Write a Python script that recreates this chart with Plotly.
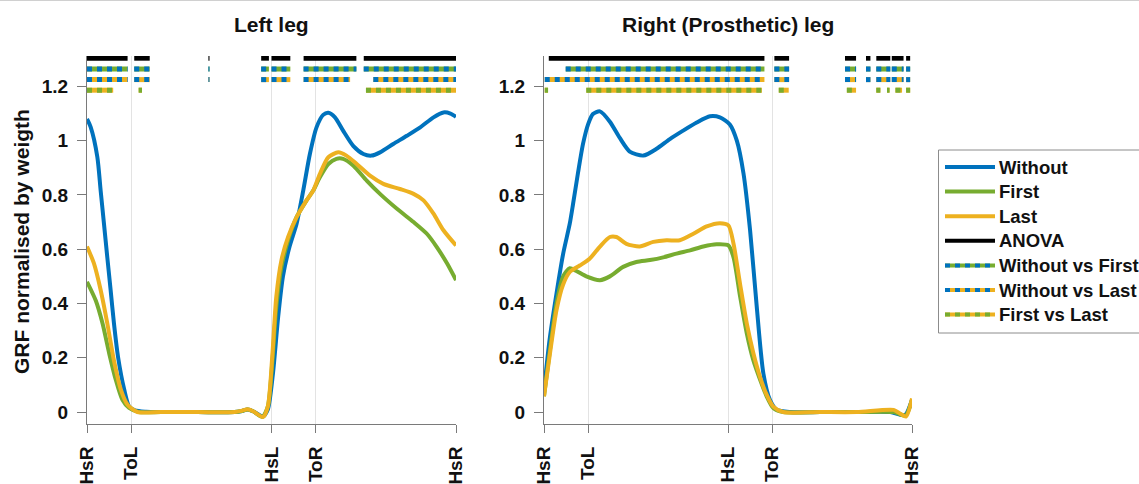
import plotly.graph_objects as go

W, H = 1139, 484
BLUE, GREEN, YELLOW, BLACK = '#0072BD', '#77AC30', '#EDB120', '#000000'
FONT = 'Arial, "Liberation Sans", sans-serif'

# ---------------- axis labels ----------------
phase_ticks = [0, 12, 50, 62, 100]
phase_labels = ['HsR', 'ToL', 'HsL', 'ToR', 'HsR']
y_ticks = [0, 0.2, 0.4, 0.6, 0.8, 1.0, 1.2]
y_labels = ['0', '0.2', '0.4', '0.6', '0.8', '1', '1.2']
panel_titles = ['Left leg', 'Right (Prosthetic) leg']
series_names = ['Without', 'First', 'Last', 'ANOVA',
                'Without vs First', 'Without vs Last', 'First vs Last']

# ---------------- Left leg curves (% gait cycle, GRF/weight) ----------------
L_without_x = [0, 1.0, 2.8, 3.7, 4.6, 5.5, 6.4, 7.3, 8.4, 10.1, 11.4, 13, 16, 20, 30, 40, 42,
               43.5, 45, 47.7, 49, 50.4, 51.8, 53.1, 54.9, 56.8, 58.6, 60.4, 62.2, 64, 65.4,
               67.2, 69.4, 72.2, 74.9, 77.1, 79.4, 83, 86.7, 90.3, 93.9, 96.6, 98.5, 100]
L_without = [1.08, 1.05, 0.94, 0.816, 0.694, 0.57, 0.45, 0.327, 0.204, 0.082, 0.021, 0.006,
             0.001, 0, 0, 0, 0.004, 0.009, 0.003, -0.016, 0.009, 0.143, 0.35, 0.50, 0.61,
             0.694, 0.816, 0.951, 1.049, 1.095, 1.103, 1.086, 1.037, 0.98, 0.951, 0.945,
             0.957, 0.988, 1.018, 1.049, 1.086, 1.104, 1.10, 1.088]

L_first_x = [0, 2.4, 4.2, 6, 7.8, 9.6, 11.4, 14.1, 20, 30, 40, 42, 43.5, 45, 47.5, 49, 50.2,
             51.3, 52.7, 54.5, 56.8, 59.5, 61.3, 63.1, 65.4, 67.6, 69.4, 72.2, 75.8, 79.4,
             84, 88.5, 92.1, 94.8, 97.6, 100]
L_first = [0.48, 0.41, 0.327, 0.217, 0.119, 0.045, 0.015, 0, 0, 0, 0, 0.004, 0.009, 0.003,
           -0.018, 0.02, 0.18, 0.388, 0.535, 0.633, 0.718, 0.78, 0.816, 0.865, 0.914, 0.933,
           0.933, 0.908, 0.853, 0.804, 0.749, 0.70, 0.657, 0.608, 0.547, 0.486]

L_last_x = [0, 1.9, 3.7, 5.5, 7.3, 9.2, 11, 13.7, 20, 30, 40, 42, 43.5, 45, 47.7, 49, 50.2,
            51.3, 52.7, 54.5, 56.8, 59.5, 61.3, 63.1, 65.4, 68.1, 70.3, 73.1, 76.7, 80.3,
            84.8, 88.5, 91.2, 93.9, 96.6, 100]
L_last = [0.61, 0.547, 0.45, 0.327, 0.19, 0.082, 0.027, 0, 0, 0, 0, 0.005, 0.01, 0.003,
          -0.018, 0.02, 0.204, 0.425, 0.56, 0.645, 0.718, 0.78, 0.816, 0.877, 0.939, 0.957,
          0.945, 0.914, 0.871, 0.841, 0.822, 0.804, 0.78, 0.731, 0.67, 0.614]

# ---------------- Right (prosthetic) leg curves ----------------
R_without_x = [0, 1.5, 3.4, 5.2, 7, 7.9, 9.2, 10.6, 12, 13.3, 15.2, 17.9, 20.6, 23.3, 27, 30.6,
               34.2, 37.8, 41.5, 45.1, 47.8, 50.5, 52.4, 54.2, 56, 57.8, 59.6, 61.4, 63.2,
               66.9, 75, 85, 94.1, 96.8, 98.2, 100]
R_without = [0.08, 0.265, 0.437, 0.583, 0.694, 0.767, 0.878, 0.988, 1.061, 1.098, 1.108,
             1.07, 1.01, 0.96, 0.945, 0.97, 1.006, 1.037, 1.067, 1.09, 1.086, 1.06, 1.0, 0.88,
             0.67, 0.39, 0.143, 0.045, 0.009, 0, 0, 0, 0, -0.01, -0.01, 0.045]

R_first_x = [0, 1.5, 3.4, 5.2, 7, 8.8, 11.5, 15.2, 17.9, 21.5, 25.1, 28.8, 32.4, 36, 39.7,
             43.3, 46.9, 50.1, 51.5, 53.3, 55.1, 56.9, 58.7, 60.5, 62.3, 65, 75, 85, 95,
             98.2, 100]
R_first = [0.058, 0.217, 0.40, 0.50, 0.53, 0.52, 0.50, 0.486, 0.50, 0.535, 0.553, 0.56,
           0.57, 0.584, 0.596, 0.61, 0.618, 0.614, 0.57, 0.425, 0.29, 0.19, 0.12, 0.058,
           0.015, 0, 0, 0, 0, -0.013, 0.045]

R_last_x = [0, 1.5, 3.4, 5.2, 7, 9.7, 12.4, 15.2, 17.9, 19.7, 22.4, 26, 29.7, 33.3, 36.9,
            40.6, 44.2, 47.8, 50.1, 51.5, 53.3, 55.1, 56.9, 58.7, 60.5, 62.3, 65, 75, 85,
            95, 96.8, 98.4, 100]
R_last = [0.058, 0.204, 0.376, 0.47, 0.516, 0.54, 0.565, 0.61, 0.645, 0.645, 0.62, 0.61,
          0.627, 0.633, 0.633, 0.657, 0.684, 0.696, 0.688, 0.62, 0.47, 0.327, 0.217, 0.13,
          0.064, 0.02, 0, 0, 0, 0.008, -0.006, -0.016, 0.05]

# ---------------- significance intervals (% gait cycle) ----------------
L_anova = [[0, 11], [12.8, 17], [32.9, 33.2], [47.2, 49.3], [50, 55.1], [58.7, 73], [75, 100]]
L_wvf = [[0, 11], [12.8, 17], [32.9, 33.2], [47.2, 49.3], [50, 55.1], [58.7, 73], [75, 100]]
L_wvl = [[0, 11], [12.8, 17], [32.9, 33.2], [47.2, 49.3], [50, 55.1], [58.7, 71.3], [77.6, 100]]
L_fvl = [[0, 7.1], [14, 14.9], [75.6, 100]]

R_anova = [[1.3, 59.9], [62.6, 66.6], [81.8, 84.8], [87.5, 88.7], [90.3, 94.1], [94.5, 97.7], [98.4, 99.5]]
R_wvf = [[5.9, 59.9], [62.6, 66.6], [81.8, 84.8], [87.5, 88.7], [90.3, 94.1], [94.5, 97.7], [98.4, 99.5]]
R_wvl = [[0.2, 59.9], [62.6, 66.6], [81.8, 84.8], [87.5, 88.7], [90.3, 94.1], [94.5, 97.7], [98.4, 99.5]]
R_fvl = [[0.2, 1.1], [11.5, 59.2], [63.8, 66.5], [82.3, 84.8], [90.3, 91.4], [93.2, 93.9], [95.5, 97.3], [98.4, 99.5]]

# ---------------- build figure ----------------
fig = go.Figure()
SIG_LEVELS = [1.304, 1.264, 1.225, 1.186]


def add_curve(x, y, color, xa, ya):
    fig.add_trace(go.Scatter(x=x, y=y, mode='lines', xaxis=xa, yaxis=ya, showlegend=False,
                             hoverinfo='skip',
                             line=dict(color=color, width=4, shape='spline', smoothing=0.7)))


def add_sig(intervals, level, base, overlay, xa, ya):
    xs, ys = [], []
    for a, b in intervals:
        xs += [a, b, None]
        ys += [level, level, None]
    fig.add_trace(go.Scatter(x=xs, y=ys, mode='lines', xaxis=xa, yaxis=ya, showlegend=False,
                             hoverinfo='skip', connectgaps=False,
                             line=dict(color=base, width=5)))
    if overlay:
        fig.add_trace(go.Scatter(x=xs, y=ys, mode='lines', xaxis=xa, yaxis=ya, showlegend=False,
                                 hoverinfo='skip', connectgaps=False,
                                 line=dict(color=overlay, width=5, dash='5px,5px')))


panels = [
    ('x', 'y', (L_without_x, L_without), (L_first_x, L_first), (L_last_x, L_last),
     [L_anova, L_wvf, L_wvl, L_fvl]),
    ('x2', 'y2', (R_without_x, R_without), (R_first_x, R_first), (R_last_x, R_last),
     [R_anova, R_wvf, R_wvl, R_fvl]),
]
sig_styles = [(BLACK, None), (GREEN, BLUE), (YELLOW, BLUE), (YELLOW, GREEN)]

for xa, ya, cw, cf, cl, sigs in panels:
    add_curve(cw[0], cw[1], BLUE, xa, ya)
    add_curve(cf[0], cf[1], GREEN, xa, ya)
    add_curve(cl[0], cl[1], YELLOW, xa, ya)
    for iv, lvl, (b, o) in zip(sigs, SIG_LEVELS, sig_styles):
        add_sig(iv, lvl, b, o, xa, ya)

# plot area geometry (pixels)
LX = (87, 456)
RX = (544, 912)
YTOP, YBOT = 56, 424
ydom = [1 - YBOT / H, 1 - YTOP / H]

axis_common = dict(showline=True, linecolor='#7a7a7a', linewidth=1, ticks='outside',
                   tickcolor='#7a7a7a', zeroline=False, mirror=False, automargin=False)
xaxis_common = dict(axis_common, range=[0, 100], tickmode='array', tickvals=phase_ticks,
                    ticktext=phase_labels, tickangle=-90, showgrid=True, gridcolor='#e3e3e3',
                    gridwidth=1, ticklen=8, ticklabelstandoff=6,
                    tickfont=dict(family=FONT, size=19, color='#111', weight='bold'))
yaxis_common = dict(axis_common, range=[-0.044, 1.312], tickmode='array', tickvals=y_ticks,
                    ticktext=y_labels, showgrid=False, domain=ydom, ticklen=9,
                    ticklabelstandoff=5,
                    tickfont=dict(family=FONT, size=19, color='#111', weight='bold'))

fig.update_layout(
    width=W, height=H, autosize=False,
    margin=dict(l=0, r=0, t=0, b=0, pad=0),
    paper_bgcolor='white', plot_bgcolor='white',
    showlegend=False,
    xaxis=dict(xaxis_common, domain=[LX[0] / W, LX[1] / W], anchor='y'),
    yaxis=dict(yaxis_common, anchor='x'),
    xaxis2=dict(xaxis_common, domain=[RX[0] / W, RX[1] / W], anchor='y2'),
    yaxis2=dict(yaxis_common, anchor='x2'),
)

annotations = []
shapes = []
# panel titles
for title, (x0, x1) in zip(panel_titles, [LX, RX]):
    annotations.append(dict(text=title, x=(x0 + x1) / 2 / W, y=1 - 25 / H, xref='paper',
                            yref='paper', showarrow=False, xanchor='center', yanchor='middle',
                            font=dict(family=FONT, size=21, color='#111', weight='bold')))
# y-axis title
annotations.append(dict(text='GRF normalised by weigth', x=21 / W, y=1 - 242 / H,
                        xref='paper', yref='paper', showarrow=False, textangle=-90,
                        xanchor='center', yanchor='middle',
                        font=dict(family=FONT, size=21, color='#111', weight='bold')))
# top border line of the picture
shapes.append(dict(type='line', xref='paper', yref='paper', x0=0, x1=1, y0=1 - 0.5 / H,
                   y1=1 - 0.5 / H, line=dict(color='#d0d0d0', width=1)))

# manual legend
shapes.append(dict(type='rect', xref='paper', yref='paper', x0=938.5 / W, x1=1150 / W,
                   y0=1 - 333 / H, y1=1 - 150 / H, line=dict(color='#8c8c8c', width=1),
                   fillcolor='white'))
legend_styles = [(BLUE, None), (GREEN, None), (YELLOW, None), (BLACK, None),
                 (GREEN, BLUE), (YELLOW, BLUE), (YELLOW, GREEN)]
for i, (name, (base, over)) in enumerate(zip(series_names, legend_styles)):
    yc = 1 - (167 + i * 24.6) / H
    shapes.append(dict(type='line', xref='paper', yref='paper', x0=945 / W, x1=995 / W,
                       y0=yc, y1=yc, line=dict(color=base, width=4)))
    if over:
        shapes.append(dict(type='line', xref='paper', yref='paper', x0=945 / W, x1=995 / W,
                           y0=yc, y1=yc, line=dict(color=over, width=4, dash='5px,5px')))
    annotations.append(dict(text=name, x=997 / W, y=yc, xref='paper', yref='paper',
                            showarrow=False, xanchor='left', yanchor='middle',
                            font=dict(family=FONT, size=18.5, color='#111', weight='bold')))

fig.update_layout(annotations=annotations, shapes=shapes)
fig.write_html('out.html')
